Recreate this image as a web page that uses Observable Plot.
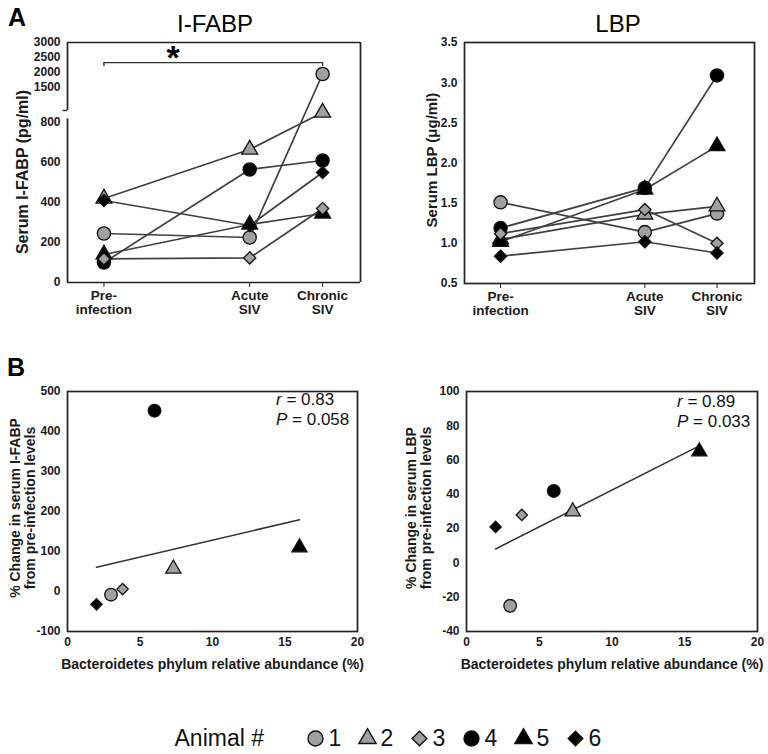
<!DOCTYPE html>
<html><head><meta charset="utf-8">
<script src="https://cdn.jsdelivr.net/npm/d3@7"></script>
<script src="https://cdn.jsdelivr.net/npm/@observablehq/plot@0.6"></script>
<style>
body{margin:0;background:#fff;font-family:"Liberation Sans",Arial,sans-serif;}
#root{position:relative;width:768px;height:754px;overflow:hidden;background:#fff;}
.abs{position:absolute;}
.letter{font-weight:bold;font-size:25px;line-height:25px;color:#000;}
.title{font-size:24px;line-height:24px;color:#000;transform:translateX(-50%);white-space:nowrap;}
.stat{font-size:17px;line-height:20px;color:#111;white-space:nowrap;}
.ylab{font-weight:bold;color:#1a1a1a;white-space:nowrap;text-align:center;transform:translate(-50%,-50%) rotate(-90deg);}
svg{overflow:visible;}
</style></head><body><div id="root"></div>
<script>
// ---------- data ----------
const animals = ["1", "2", "3", "4", "5", "6"];
const timepoints = ["Pre-infection", "Acute SIV", "Chronic SIV"];
const timeX = [0, 2, 3];
const timeTickLabels = ["Pre-\ninfection", "Acute\nSIV", "Chronic\nSIV"];

// I-FABP (pg/ml), by animal 1..6
const ifabpPre     = [245, 420, 118, 100, 140, 410];
const ifabpAcute   = [225, 665, 123, 565, 290, 285];
const ifabpChronic = [1950, 850, 370, 610, 345, 550];
const ifabpTicks   = [0, 200, 400, 600, 800, 1500, 2000, 2500, 3000];

// LBP (ug/ml), by animal 1..6
const lbpPre     = [1.51, 1.05, 1.12, 1.19, 1.02, 0.84];
const lbpAcute   = [1.14, 1.36, 1.42, 1.69, 1.67, 1.02];
const lbpChronic = [1.37, 1.46, 1.00, 3.09, 2.21, 0.88];
const lbpTicks   = [0.5, 1.0, 1.5, 2.0, 2.5, 3.0, 3.5];

// Panel B
const bacteroidetes = [3.0, 7.3, 3.8, 6.0, 16.0, 2.0];
const ifabpChange   = [-8, 57, 6, 452, 110, -32];
const lbpChange     = [-25, 30, 28, 42, 65, 21];
const abundTicks    = [0, 5, 10, 15, 20];
const ifabpChangeTicks = [-100, 0, 100, 200, 300, 400, 500];
const lbpChangeTicks   = [-40, -20, 0, 20, 40, 60, 80, 100];
const stats = [{panel: "ifabp", r: "0.83", p: "0.058"}, {panel: "lbp", r: "0.89", p: "0.033"}];
const sigLevel = 2330; // bracket Pre vs Chronic

// ---------- derived tables ----------
const series = animals.flatMap((a, i) => timeX.map((t, j) => ({
  animal: a, t,
  ifabp: [ifabpPre, ifabpAcute, ifabpChronic][j][i],
  lbp: [lbpPre, lbpAcute, lbpChronic][j][i]
})));
const corr = animals.map((a, i) => ({animal: a, abund: bacteroidetes[i], dI: ifabpChange[i], dL: lbpChange[i]}));

// ---------- styling ----------
const GRAY = "#a0a0a0", INK = "#111";
const symbolRange = ["circle", "triangle", "diamond2", "circle", "triangle", "diamond2"];
const symbolScale = {domain: animals, range: symbolRange};
const colorScale = {domain: animals, range: [GRAY, GRAY, GRAY, "#000", "#000", "#000"]};
const shapeOf = a => symbolRange[animals.indexOf(a)];
const FONT = "Liberation Sans, Arial, Helvetica, sans-serif";
const tickText = {fontSize: 12, fontWeight: "bold", stroke: null, fill: "#1a1a1a"};

// broken y axis for I-FABP (lower 0-850 linear, upper compressed)
const brk = v => v <= 850 ? v : 975 + (v - 1500) * 0.15;
const ifabpTicksT = ifabpTicks.map(brk);
const axisBreak = {lowerTop: 818, upperBottom: 860};

function dots(data, x, y, sizes) {
  return ["circle", "triangle", "diamond2"].map(s => Plot.dot(data, {
    x, y, filter: d => shapeOf(d.animal) === s, r: sizes[s],
    symbol: "animal", fill: "animal", stroke: INK, strokeWidth: 1.3
  }));
}
const sizesA = {circle: 6.6, triangle: 5.9, diamond2: 5.5};
const sizesB = {circle: 6.3, triangle: 5.6, diamond2: 5.1};

const xDom = [-0.5, 3.52];
const root = document.getElementById("root");
function place(el, left, top) {
  const d = document.createElement("div");
  d.className = "abs"; d.style.left = left + "px"; d.style.top = top + "px";
  d.appendChild(el); root.appendChild(d); return d;
}
function html(cls, content, left, top, extra) {
  const d = document.createElement("div");
  d.className = "abs " + cls; d.style.left = left + "px"; d.style.top = top + "px";
  if (extra) Object.assign(d.style, extra);
  d.innerHTML = content; root.appendChild(d); return d;
}
const xTimeAxis = Plot.axisX(timeX, {
  tickFormat: d => timeTickLabels[timeX.indexOf(d)], tickSize: 5, tickPadding: 3,
  fontSize: 13.5, fontWeight: "bold", label: null, fill: "#1a1a1a"
});
const LINE = {stroke: "#404040", strokeWidth: 1.7};

// ---------- A: I-FABP ----------
const plotA1 = Plot.plot({
  width: 384, height: 300, marginLeft: 67, marginRight: 24, marginTop: 12, marginBottom: 48,
  style: {fontFamily: FONT, color: "#222", background: "transparent", overflow: "visible"},
  x: {domain: xDom},
  y: {domain: [0, brk(3000)]},
  symbol: symbolScale, color: colorScale,
  marks: [
    Plot.ruleY([0, brk(3000)], {x1: xDom[0], x2: xDom[1], stroke: "#222", strokeWidth: 1.7}),
    Plot.ruleX([xDom[1]], {y1: 0, y2: brk(3000), stroke: "#222", strokeWidth: 1.7}),
    Plot.ruleX([xDom[0]], {y1: 0, y2: axisBreak.lowerTop, stroke: "#222", strokeWidth: 1.7}),
    Plot.ruleX([xDom[0]], {y1: axisBreak.upperBottom, y2: brk(3000), stroke: "#222", strokeWidth: 1.7}),
    Plot.ruleY([axisBreak.upperBottom], {x1: xDom[0] - 0.06, x2: xDom[0], stroke: "#222", strokeWidth: 1.4}),
    xTimeAxis,
    Plot.axisY(ifabpTicksT, {
      tickFormat: t => String(ifabpTicks[ifabpTicksT.indexOf(t)]), tickSize: 5, tickPadding: 2,
      label: null, ...tickText
    }),
    Plot.ruleY([brk(sigLevel)], {x1: timeX[0], x2: timeX[2], stroke: "#333", strokeWidth: 1.4}),
    Plot.ruleX([timeX[0], timeX[2]], {y1: brk(sigLevel), y2: brk(sigLevel - 130), stroke: "#333", strokeWidth: 1.4}),
    Plot.text(["*"], {x: 0.95, y: brk(sigLevel), dy: -4, fontSize: 34, fontWeight: "bold", fill: "#000"}),
    Plot.line(series, {x: "t", y: d => brk(d.ifabp), z: "animal", ...LINE}),
    ...dots(series, "t", d => brk(d.ifabp), sizesA)
  ]
});
place(plotA1, 0, 30);

// ---------- A: LBP ----------
const plotA2 = Plot.plot({
  width: 384, height: 300, marginLeft: 80, marginRight: 14, marginTop: 12, marginBottom: 47,
  style: {fontFamily: FONT, color: "#222", background: "transparent", overflow: "visible"},
  x: {domain: xDom},
  y: {domain: [0.5, 3.5]},
  symbol: symbolScale, color: colorScale,
  marks: [
    Plot.frame({stroke: "#222", strokeWidth: 1.7}),
    xTimeAxis,
    Plot.axisY(lbpTicks, {tickFormat: d3.format(".1f"), tickSize: 5, tickPadding: 2, label: null, ...tickText}),
    Plot.line(series, {x: "t", y: "lbp", z: "animal", ...LINE}),
    ...dots(series, "t", "lbp", sizesA)
  ]
});
place(plotA2, 384, 30);

// ---------- B panels ----------
function corrPlot(yKey, yDomain, yTicks, mLeft, mRight) {
  return Plot.plot({
    width: 384, height: 300, marginLeft: mLeft, marginRight: mRight, marginTop: 11, marginBottom: 49,
    style: {fontFamily: FONT, color: "#222", background: "transparent", overflow: "visible"},
    x: {domain: [abundTicks[0], abundTicks[abundTicks.length - 1]]},
    y: {domain: yDomain},
    symbol: symbolScale, color: colorScale,
    marks: [
      Plot.frame({stroke: "#222", strokeWidth: 1.7}),
      Plot.axisX(abundTicks, {tickSize: 4, tickPadding: 2, label: null, ...tickText}),
      Plot.axisY(yTicks, {tickSize: 5, tickPadding: 2, label: null, tickFormat: d => String(d), ...tickText}),
      Plot.text(["Bacteroidetes phylum relative abundance (%)"], {frameAnchor: "bottom", dy: 37, fontSize: 14, fontWeight: "bold", fill: "#1a1a1a"}),
      Plot.linearRegressionY(corr, {x: "abund", y: yKey, ci: 0, stroke: "#333", strokeWidth: 1.6}),
      ...dots(corr, "abund", yKey, sizesB)
    ]
  });
}
place(corrPlot("dI", [-100, 500], ifabpChangeTicks, 67, 27), 0, 380);
place(corrPlot("dL", [-40, 100], lbpChangeTicks, 82, 11), 384, 380);

// ---------- legend ----------
const legend = Plot.plot({
  width: 768, height: 46, margin: 0,
  style: {fontFamily: FONT, background: "transparent", overflow: "visible"},
  x: {type: "point", domain: animals, range: [288, 601], axis: null},
  symbol: symbolScale, color: colorScale,
  marks: [
    Plot.text(["Animal #"], {frameAnchor: "left", dx: 174, textAnchor: "start", fontSize: 23, fill: "#111"}),
    ...["circle", "triangle", "diamond2"].map(s => Plot.dot(animals, {
      x: d => d, filter: d => shapeOf(d) === s, r: {circle: 7.5, triangle: 6.4, diamond2: 6.6}[s],
      symbol: d => d, fill: d => d, stroke: INK, strokeWidth: 1.4
    })),
    Plot.text(animals, {x: d => d, dx: 13, textAnchor: "start", fontSize: 23, fill: "#111"})
  ]
});
place(legend, 0, 715);

// ---------- titles, axis titles & annotations ----------
html("letter", "A", 8, 5);
html("letter", "B", 7, 355);
html("title", "I-FABP", 215, 12);
html("title", "LBP", 618, 12);
html("ylab", "Serum I-FABP (pg/ml)", 22, 172, {fontSize: "16px", lineHeight: "17px"});
html("ylab", "Serum LBP (μg/ml)", 432, 160, {fontSize: "15px", lineHeight: "16px"});
html("ylab", "% Change in serum I-FABP<br>from pre-infection levels", 23, 508, {fontSize: "14px", lineHeight: "15px"});
html("ylab", "% Change in serum LBP<br>from pre-infection levels", 419, 508, {fontSize: "14px", lineHeight: "15px"});
html("stat", `<i>r</i> = ${stats[0].r}<br><i>P</i> = ${stats[0].p}`, 276, 390);
html("stat", `<i>r</i> = ${stats[1].r}<br><i>P</i> = ${stats[1].p}`, 677, 392);
</script></body></html>
